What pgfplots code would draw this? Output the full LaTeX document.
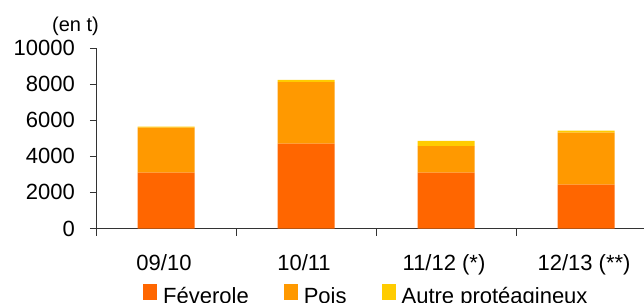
\documentclass[border=0pt]{standalone}
\usepackage{pgfplots}
\pgfplotsset{compat=1.18}
\usepackage{fontspec}
\setmainfont{Liberation Sans}
\definecolor{fev}{HTML}{FF6600}
\definecolor{pois}{HTML}{FF9900}
\definecolor{autre}{HTML}{FFCC00}
\begin{document}
\fontsize{22}{26}\selectfont
\begin{tikzpicture}
\path[use as bounding box] (0pt,0pt) rectangle (644pt,302pt);
\begin{axis}[
  at={(96pt,73.5pt)}, anchor=south west,
  scale only axis, width=548pt, height=180.5pt,
  ybar stacked, bar width=57pt,
  xmin=-0.5, xmax=3.414, ymin=0, ymax=10000,
  axis lines=left,
  axis line style={-, black!80, line width=0.9pt},
  xtick={0,1,2,3},
  xticklabels={09/10,10/11,11/12 (*),12/13 (**)},
  major x tick style={draw=none},
  minor xtick={-0.5,0.5,1.5,2.5},
  minor tick length=7pt,
  major tick length=6pt,
  tick align=outside,
  tick style={black!80, line width=0.8pt},
  ytick={0,2000,4000,6000,8000,10000},
  scaled y ticks=false,
  /pgf/number format/assume math mode=true,
  /pgf/number format/1000 sep={},
  tick label style={font=\fontsize{22}{26}\selectfont},
  yticklabel style={anchor=east, inner sep=0pt, xshift=-15pt},
  xticklabel style={anchor=base, inner sep=0pt, yshift=-35.5pt, xshift=-2pt},
  legend columns=3,
  legend style={at={(0.0858,-0.305)}, anchor=north west, draw=none, fill=none, inner sep=0pt,
    font=\fontsize{22}{26}\selectfont,
    nodes={inner sep=0pt},
    /tikz/every odd column/.append style={column sep=6pt},
    /tikz/every even column/.append style={column sep=35pt}},
  legend image code/.code={\fill[#1] (0pt,-3pt) rectangle (14pt,13pt);},
]
\addplot[fill=fev, draw=none] coordinates {(0,3090) (1,4700) (2,3090) (3,2430)};
\addplot[fill=pois, draw=none] coordinates {(0,2495) (1,3415) (2,1480) (3,2880)};
\addplot[fill=autre, draw=none] coordinates {(0,55) (1,115) (2,280) (3,110)};
\legend{F\'everole,Pois,Autre prot\'eagineux}
\end{axis}
\node[anchor=base, font=\fontsize{20}{24}\selectfont] at (75.5pt,270pt) {(en t)};
\end{tikzpicture}
\end{document}
